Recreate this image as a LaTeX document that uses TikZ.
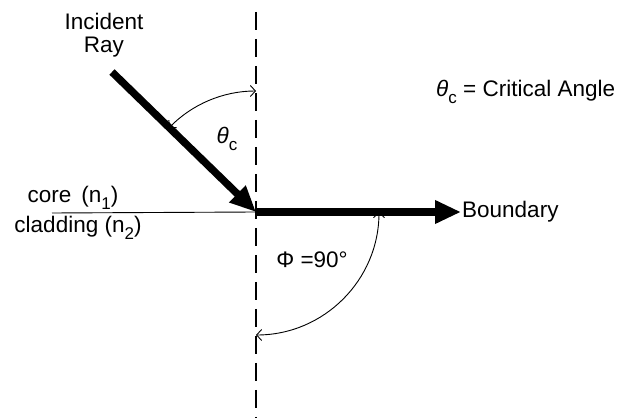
\documentclass[tikz,border=0pt]{standalone}
\usepackage{fontspec}
\setmainfont{Liberation Sans}
\usetikzlibrary{arrows.meta,positioning,calc}
\newcommand{\tirsub}[1]{\raisebox{-0.3em}{\fontsize{17}{17}\selectfont #1}}
\newcommand{\tirtheta}{{\itshape θ}\tirsub{c}}
\tikzset{
  tirlbl/.style={font=\fontsize{22.5}{23}\selectfont,inner sep=1pt,align=center},
  tirray/.style={line width=7.5pt,-{Triangle[length=26pt,width=22pt]}},
  tirthin/.style={line width=0.9pt},
  tirnormal/.style={line width=1.4pt,dash pattern=on 18pt off 9pt},
  tirangle/.style={line width=0.9pt,{Straight Barb[length=5pt,width=11pt]}-{Straight Barb[length=5pt,width=11pt]}},
}
\begin{document}
\begin{tikzpicture}[x=1pt,y=1pt]
  \useasboundingbox (0,0) rectangle (622,418);
  \coordinate (hit) at (256,206);
  \coordinate (rayStart) at (112,346);
  \coordinate (normTop) at (256,406);
  \coordinate (normBot) at (256,0);
  \coordinate (coreEnd) at (52,205);
  \coordinate (tcTop) at ($(hit)+(0,121)$);
  \coordinate (phiRight) at ($(hit)+(123,0)$);

  \node[tirlbl,anchor=center] (inc) at (104,383) {Incident\\Ray};
  \node[tirlbl,anchor=west] (bnd) at (461,206) {Boundary};
  \node[tirlbl] (core) at (73,220) {core\, (n\tirsub{1})};
  \node[tirlbl] (clad) at (78,190) {cladding (n\tirsub{2})};
  \node[tirlbl] (tc) at (227,279) {\tirtheta};
  \node[tirlbl] (phi) at (312,158) {Φ =90°};
  \node[tirlbl,anchor=west] (crit) at (435,326) {\tirtheta\ = Critical Angle};

  \draw[tirnormal] (normTop) -- (normBot);
  \draw[tirthin] (coreEnd) -- (hit);
  \draw[tirray] (rayStart) -- (hit);
  \draw[tirray] (hit) -- (bnd.west);
  \draw[tirangle] (tcTop) arc[start angle=90,end angle=136,radius=121];
  \draw[tirangle] (phiRight) arc[start angle=0,end angle=-90,radius=123];
\end{tikzpicture}
\end{document}
